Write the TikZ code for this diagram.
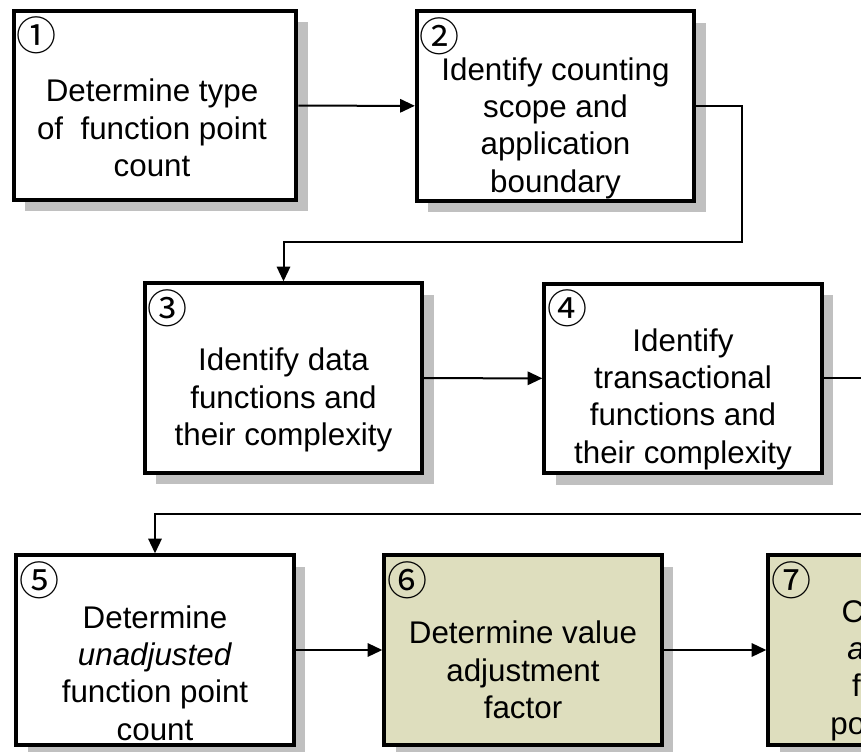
\documentclass[tikz,border=0pt]{standalone}
\usepackage{fontspec}
\setmainfont{Liberation Sans}
\newfontfamily\circfont{Noto Sans CJK SC}
\usetikzlibrary{arrows.meta, shadows}
\definecolor{boxbeige}{RGB}{222, 222, 190}
\definecolor{shadowgray}{RGB}{192, 192, 192}

\begin{document}
\begin{tikzpicture}[
    x=0.75pt, y=-0.75pt,
    stepbox/.style={rectangle, draw=black, line width=3pt, fill=white, minimum width=208pt, minimum height=142pt, drop shadow={shadow xshift=8.5pt, shadow yshift=-8.5pt, fill=shadowgray, opacity=1}},
    adjbox/.style={stepbox, fill=boxbeige},
    steptext/.style={align=center, font=\fontsize{23.5}{28}\selectfont, inner sep=0pt},
    stepnum/.style={font=\circfont\fontsize{30}{30}\selectfont, inner sep=0pt},
    arrow/.style={-{Triangle[length=11pt, width=10pt]}, line width=1.5pt}
]
    \useasboundingbox (0,0) rectangle (861,752);
    \clip (0,0) rectangle (861,752);

    % Row 1
    \node[stepbox, minimum width=212pt] (type) at (155,105.5) {};
    \node[stepbox] (scope) at (555.5,106) {};
    \node[stepnum] (type_n) at ([shift={(18.5pt,-20pt)}]type.north west) {①};
    \node[stepnum] (scope_n) at ([shift={(18.5pt,-20pt)}]scope.north west) {②};
    \node[steptext] (type_t) at (152,128) {Determine type\\of\ \ function point\\count};
    \node[steptext] (scope_t) at (555.5,128) {Identify counting\\scope and\\application\\boundary};

    % Row 2
    \node[stepbox] (data) at (283.5,378) {};
    \node[stepbox] (trans) at (683,378.5) {};
    \node[stepnum] (data_n) at ([shift={(18.5pt,-20pt)}]data.north west) {③};
    \node[stepnum] (trans_n) at ([shift={(18.5pt,-20pt)}]trans.north west) {④};
    \node[steptext] (data_t) at (283.5,400) {Identify data\\functions and\\their complexity};
    \node[steptext] (trans_t) at (683,399) {Identify\\transactional\\functions and\\their complexity};

    % Row 3
    \node[stepbox] (ufp) at (155,650) {};
    \node[adjbox] (vaf) at (523,650) {};
    \node[adjbox] (afp) at (907,650) {};
    \node[stepnum] (ufp_n) at ([shift={(18.5pt,-20pt)}]ufp.north west) {⑤};
    \node[stepnum] (vaf_n) at ([shift={(18.5pt,-20pt)}]vaf.north west) {⑥};
    \node[stepnum] (afp_n) at ([shift={(18.5pt,-20pt)}]afp.north west) {⑦};
    \node[steptext] (ufp_t) at (155,673) {Determine\\\textit{unadjusted}\\function point\\count};
    \node[steptext] (vaf_t) at (523,670) {Determine value\\adjustment\\factor};
    \node[steptext] (afp_t) at (907,670) {Calculate\\\textit{adjusted}\\function\\point count};

    % Connectors
    \coordinate (bend1) at (742,242);
    \coordinate (bend2) at (880,514);
    \draw[arrow] (type) -- (scope);
    \draw[arrow] (scope.east) -| (bend1) -| (data.north);
    \draw[arrow] (data) -- (trans);
    \draw[arrow] (trans.east) -| (bend2) -| (ufp.north);
    \draw[arrow] (ufp) -- (vaf);
    \draw[arrow] (vaf) -- (afp);
\end{tikzpicture}
\end{document}
